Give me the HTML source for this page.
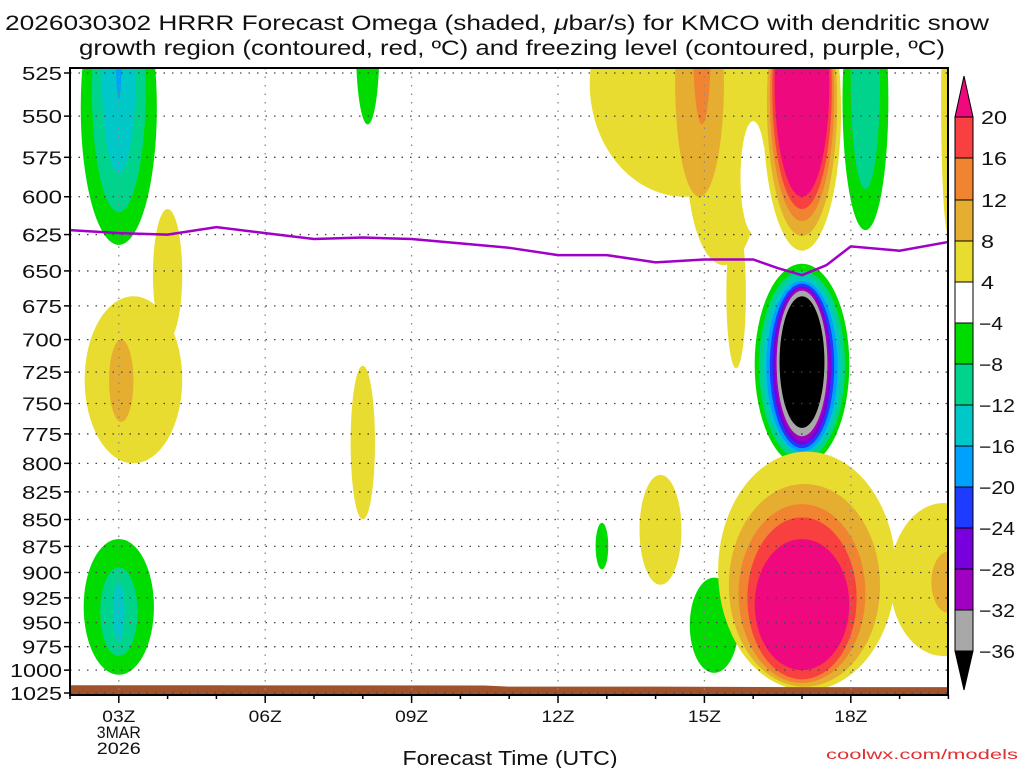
<!DOCTYPE html>
<html><head><meta charset="utf-8"><style>
body{margin:0;background:#fff;width:1024px;height:768px;overflow:hidden}
svg{display:block}
text{font-family:"Liberation Sans","DejaVu Sans",sans-serif;fill:#111}
</style></head><body>
<svg id="chart" width="1024" height="768" viewBox="0 0 1024 768">
<text x="497" y="30" font-size="21" text-anchor="middle" textLength="984" lengthAdjust="spacingAndGlyphs">2026030302 HRRR Forecast Omega (shaded, <tspan font-style="italic">μ</tspan>bar/s) for KMCO with dendritic snow</text>
<text x="512" y="55" font-size="21" text-anchor="middle" textLength="866" lengthAdjust="spacingAndGlyphs">growth region (contoured, red, ºC) and freezing level (contoured, purple, ºC)</text>
<defs><clipPath id="pc"><rect x="70" y="68" width="878" height="627"/></clipPath></defs>
<g id="fills" clip-path="url(#pc)"></g>
<g id="grid"></g>
<g id="lines" clip-path="url(#pc)"></g>
<rect x="70" y="68" width="878" height="627" fill="none" stroke="#000" stroke-width="2"/>
<g id="axes"></g>
<g id="cbar"></g>
<text x="510" y="765" font-size="20" text-anchor="middle" textLength="215" lengthAdjust="spacingAndGlyphs">Forecast Time (UTC)</text>
<text x="1018" y="759" font-size="14" text-anchor="end" style="fill:#e03030" textLength="192" lengthAdjust="spacingAndGlyphs">coolwx.com/models</text>
</svg>
<script>
// Shaded omega features (time in hours UTC, pressure in hPa, level value)
const blobTime =  [3.0,3.0,3.0,3.0, 3.3,4.0,3.05, 8.1, 8.0, 3.0,3.0,3.0, 12.9, 14.1, 15.2, 14.6,15.4,16.0,15.65,14.9,14.95, 17.0,17.0,17.0,17.0,17.0, 18.3,18.3, 20.0,
  17.0,17.0,17.0,17.0,17.0,17.0,17.0,17.0,17.0, 17.1,19.9,17.05,20.0,17.0,17.0,17.0];
const blobRx =    [0.78,0.55,0.35,0.07, 1.0,0.3,0.25, 0.24, 0.25, 0.72,0.38,0.12, 0.13, 0.43, 0.5, 1.95,0.75,0.26,0.2,0.5,0.18, 0.8,0.72,0.66,0.61,0.56, 0.47,0.3, 0.15,
  0.97,0.88,0.8,0.73,0.66,0.6,0.55,0.52,0.46, 1.82,1.1,1.55,0.35,1.3,1.12,0.97];
const blobPtop =  [470,470,470,470, 668,608,700, 470, 720, 868,895,910, 853, 810, 905, 470,520,553,615,470,470, 470,470,470,470,470, 470,470, 470,
  645,650,654,657,659,661,662,664,668, 790,835,818,880,836,848,868];
const blobPbot =  [632,610,585,540, 800,700,765, 555, 850, 1005,985,970, 897, 912, 1003, 600,646,624,722,600,555, 636,626,616,608,600, 622,595, 625,
  802,797,792,790,787,784,781,777,770, 1022,985,1018,940,1014,1010,1000];
const blobLevel = [-6,-10,-14,-18, 6,6,10, -6, 6, -6,-10,-14, -6, 6, -6, 6,6,0,6,10,14, 6,10,14,18,22, -6,-10, 6,
  -6,-10,-14,-18,-22,-26,-30,-34,-40, 6,6,10,10,14,18,22];
// Freezing level
const fzTime = [2,3,4,5,6,7,8,9,10,11,12,13,14,15,16,16.5,17,17.5,18,19,20];
const fzP =    [622,624,625,620,624,628,627,628,631,634,639,639,644,642,642,648,653,646,633,636,630];
// Surface (ground) pressure
const sfcTime = [2,5,8,10.5,11,14,17,20];
const sfcP =    [1016.5,1016.5,1016.6,1016.7,1018,1018,1018.5,1018.5];
const pTicks = [525,550,575,600,625,650,675,700,725,750,775,800,825,850,875,900,925,950,975,1000,1025];
const tTicks = [3,6,9,12,15,18];
const tLabels = ['03Z','06Z','09Z','12Z','15Z','18Z'];
const cbLevels = [20,16,12,8,4,-4,-8,-12,-16,-20,-24,-28,-32,-36];
const cbColors = ['#f84040','#f08430','#e6ae30','#e8dc30','#ffffff','#00dc00','#00d48c','#00c8c8','#00a0ff','#1e3cff','#7800dc','#a000c0','#a8a8a8'];

const NS='http://www.w3.org/2000/svg';
const X = t => 70 + (t-2)*48.8;
const Y = p => 73 + 926.7*Math.log(p/525);
function col(v){
  if(v>20) return '#ee0a7e'; if(v>16) return cbColors[0]; if(v>12) return cbColors[1];
  if(v>8) return cbColors[2]; if(v>4) return cbColors[3]; if(v>-4) return '#ffffff';
  if(v>-8) return cbColors[5]; if(v>-12) return cbColors[6]; if(v>-16) return cbColors[7];
  if(v>-20) return cbColors[8]; if(v>-24) return cbColors[9]; if(v>-28) return cbColors[10];
  if(v>-32) return cbColors[11]; if(v>-36) return cbColors[12]; return '#000000';
}
function mk(tag,attrs,parent){const e=document.createElementNS(NS,tag);for(const k in attrs)e.setAttribute(k,attrs[k]);parent.appendChild(e);return e;}
const fills=document.getElementById('fills');
for(let i=0;i<blobTime.length;i++){
  const y1=Y(blobPtop[i]), y2=Y(blobPbot[i]);
  const e=mk('ellipse',{cx:X(blobTime[i]),cy:(y1+y2)/2,rx:blobRx[i]*48.8,ry:(y2-y1)/2,fill:col(blobLevel[i])},fills);
  
  
}
// ground
let gp='M'+X(sfcTime[0])+','+Y(sfcP[0]);
for(let i=1;i<sfcTime.length;i++) gp+=' L'+X(sfcTime[i])+','+Y(sfcP[i]);
gp+=' L'+X(20.2)+',700 L'+X(1.8)+',700 Z';
const g=mk('path',{d:gp,fill:'#a0522d'},fills);


// grid
const grid=document.getElementById('grid');
pTicks.forEach(p=>{const y=Y(p); if(y>69&&y<694){const l=mk('line',{x1:70,x2:948,y1:y,y2:y,stroke:'#444','stroke-width':1.3,'stroke-dasharray':'1.5 7'},grid);
  }});
tTicks.forEach(t=>{const x=X(t);const l=mk('line',{x1:x,x2:x,y1:68,y2:695,stroke:'#888','stroke-width':1.3,'stroke-dasharray':'1.5 7'},grid);
  });
// freezing level
let fp='';fzTime.forEach((t,i)=>{fp+=(i?' L':'M')+X(t)+','+Y(fzP[i]);});
const fl=mk('path',{d:fp,fill:'none',stroke:'#a000c8','stroke-width':2.5},document.getElementById('lines'));


// axes
const axes=document.getElementById('axes');
pTicks.forEach(p=>{const y=Y(p);
 mk('line',{x1:64,x2:70,y1:y,y2:y,stroke:'#000','stroke-width':1.5},axes);
 const t=mk('text',{x:62,y:y+7,'font-size':18,'text-anchor':'end',textLength:p>=1000?52:40,lengthAdjust:'spacingAndGlyphs'},axes);t.textContent=p;
  });
for(let h=2;h<=20;h++){const x=X(h);mk('line',{x1:x,x2:x,y1:695,y2:h%3==0?703:699,stroke:'#000','stroke-width':1.5},axes);}
tTicks.forEach((t,i)=>{const e=mk('text',{x:X(t),y:722,'font-size':17,'text-anchor':'middle',textLength:33,lengthAdjust:'spacingAndGlyphs'},axes);e.textContent=tLabels[i];
  });
[['3MAR',738],['2026',754]].forEach(a=>{const e=mk('text',{x:X(3),y:a[1],'font-size':17,'text-anchor':'middle',textLength:44,lengthAdjust:'spacingAndGlyphs'},axes);e.textContent=a[0];
  });
// colorbar
const cb=document.getElementById('cbar');
const segY=[117,158,200,241,282,323,364,405,446,487,528,569,610,651];
mk('path',{d:'M955,117 L964,76 L973,117 Z',fill:'#ee0a7e',stroke:'#000'},cb);
for(let i=0;i<cbColors.length;i++){mk('rect',{x:955,y:segY[i],width:18,height:segY[i+1]-segY[i],fill:cbColors[i],stroke:'#000'},cb);}
mk('path',{d:'M955,651 L964,690 L973,651 Z',fill:'#000',stroke:'#000'},cb);
cbLevels.forEach((v,i)=>{const t=mk('text',{x:v<0?979:981,y:segY[i]+7,'font-size':18,textLength:v<=-10?36:(v<0?24:(v>=10?26:13)),lengthAdjust:'spacingAndGlyphs'},cb);t.textContent=v<0?'−'+(-v):v;
  });
</script>
</body></html>
